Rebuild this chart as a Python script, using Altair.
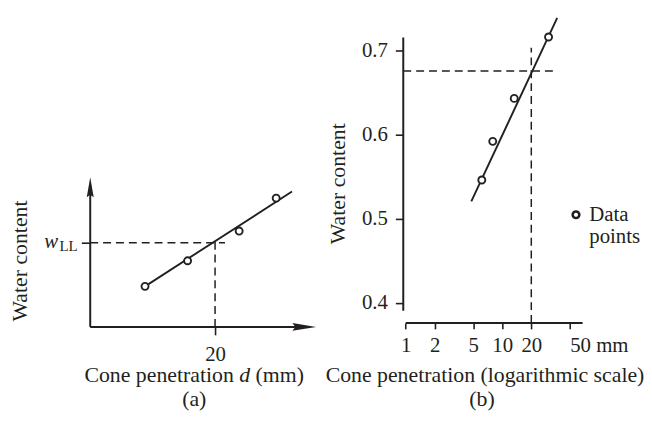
import altair as alt
import pandas as pd

FONT = "Liberation Serif"
INK = "#231f20"

# ---------------- panel (a): schematic, linear scale ----------------
a_point_d = [8.78, 15.6, 23.86, 29.79]
a_point_w = [0.273, 0.445, 0.645, 0.867]
a_fit_d = [8.78, 32.33]
a_fit_w = [0.273, 0.911]
a_tick_d = [20]
a_w_ll = 0.567
a_x_domain = [0, 33.33]
a_y_domain = [0, 2.087]
a_x_arrow = 34.29
a_y_arrow = 0.94
a_hdash_end = 21.6
a_vdash_top = 0.6
a_title_at = [24.75, -0.37]

# ---------------- panel (b): logarithmic scale ----------------
b_point_d = [6.14, 7.97, 13.31, 30.2]
b_point_w = [0.546, 0.592, 0.643, 0.716]
b_fit_d = [4.78, 37.1]
b_fit_w = [0.5205, 0.7388]
b_tick_d = [1, 2, 5, 10, 20, 50]
b_tick_w = [0.4, 0.5, 0.6, 0.7]
b_d_ll = 20
b_w_ll = 0.6756
b_x_domain = [0.9427, 68.0]
b_y_domain = [0.3761, 0.74]
b_yaxis_span = [0.3906, 0.7153]
b_xaxis_span = [1, 68.0]
b_hdash_end = 35.1
b_vdash_top = 0.7032
b_legend_at = [58.1, 0.5047]

DASH = [8, 5]

# ================= panel (a) =================
sx_a = alt.Scale(domain=a_x_domain, nice=False, zero=False)
sy_a = alt.Scale(domain=a_y_domain, nice=False, zero=False)
axis_ax = alt.Axis(values=a_tick_d, title=None, domain=False, grid=False,
                   tickSize=8, tickWidth=1.6, tickColor=INK, labelPadding=9,
                   labelFlush=False, labelOverlap=False, format="d")
axis_ay = alt.Axis(values=[a_w_ll], labels=False, title="Water content",
                   titleY=246, titlePadding=50, domain=False, grid=False,
                   tickSize=9, tickWidth=1.6, tickColor=INK)


def XA(f="x"):
    return alt.X(f"{f}:Q", scale=sx_a, axis=axis_ax)


def YA(f="y"):
    return alt.Y(f"{f}:Q", scale=sy_a, axis=axis_ay)


a_vaxis = alt.Chart(pd.DataFrame({"x": [0], "y": [0], "y2": [a_y_arrow]})).mark_rule(
    color=INK, strokeWidth=2).encode(x=XA(), y=YA(), y2="y2:Q")
a_haxis = alt.Chart(pd.DataFrame({"x": [0], "x2": [a_x_arrow], "y": [0]})).mark_rule(
    color=INK, strokeWidth=2).encode(x=XA(), x2="x2:Q", y=YA())
a_arrow_up = alt.Chart(pd.DataFrame({"x": [0], "y": [a_y_arrow]})).mark_point(
    shape="M0,-1L0.35,1L0,0.75L-0.35,1Z", filled=True, size=400, color=INK, opacity=1
).encode(x=XA(), y=YA())
a_arrow_right = alt.Chart(pd.DataFrame({"x": [a_x_arrow], "y": [0]})).mark_point(
    shape="M1,0L-1,-0.33L-0.75,0L-1,0.33Z", filled=True, size=576, color=INK, opacity=1
).encode(x=XA(), y=YA())
a_hdash = alt.Chart(pd.DataFrame({"x": [0], "x2": [a_hdash_end], "y": [a_w_ll]})).mark_rule(
    color=INK, strokeWidth=1.5, strokeDash=DASH).encode(x=XA(), x2="x2:Q", y=YA())
a_vdash = alt.Chart(pd.DataFrame({"x": a_tick_d, "y": [0], "y2": [a_vdash_top]})).mark_rule(
    color=INK, strokeWidth=1.5, strokeDash=DASH).encode(x=XA(), y=YA(), y2="y2:Q")
a_fit = alt.Chart(pd.DataFrame({"x": a_fit_d, "y": a_fit_w})).mark_line(
    color=INK, strokeWidth=1.9).encode(x=XA(), y=YA())
a_pts = alt.Chart(pd.DataFrame({"x": a_point_d, "y": a_point_w})).mark_point(
    shape="circle", size=50, filled=True, fill="white", stroke=INK, strokeWidth=1.9, opacity=1
).encode(x=XA(), y=YA())

lab_df = pd.DataFrame({"x": [0], "y": [a_w_ll]})
a_w = alt.Chart(lab_df).mark_text(
    text="w", font=FONT, fontStyle="italic", fontSize=21, color=INK,
    align="center", baseline="alphabetic", dx=-39.3, dy=5).encode(x=XA(), y=YA())
a_ll = alt.Chart(lab_df).mark_text(
    text="LL", font=FONT, fontSize=15, color=INK,
    align="left", baseline="alphabetic", dx=-31, dy=8.5).encode(x=XA(), y=YA())

tdf = pd.DataFrame({"x": [a_title_at[0]], "y": [a_title_at[1]]})
a_t1 = alt.Chart(tdf).mark_text(
    text="Cone penetration", font=FONT, fontSize=22, color=INK,
    align="right", baseline="alphabetic", dx=-11).encode(x=XA(), y=YA())
a_t2 = alt.Chart(tdf).mark_text(
    text="d", font=FONT, fontStyle="italic", fontSize=22, color=INK,
    align="center", baseline="alphabetic").encode(x=XA(), y=YA())
a_t3 = alt.Chart(tdf).mark_text(
    text="(mm)", font=FONT, fontSize=22, color=INK,
    align="left", baseline="alphabetic", dx=11).encode(x=XA(), y=YA())

panel_a = alt.layer(
    a_vaxis, a_haxis, a_arrow_up, a_arrow_right, a_hdash, a_vdash,
    a_fit, a_pts, a_w, a_ll, a_t1, a_t2, a_t3
).properties(
    width=210, height=313,
    title=alt.TitleParams("(a)", orient="bottom", offset=3, fontSize=22, font=FONT,
                          fontWeight="normal", color=INK, frame="group", anchor="middle"),
)

# ================= panel (b) =================
sx_b = alt.Scale(type="log", domain=b_x_domain, nice=False)
sy_b = alt.Scale(domain=b_y_domain, nice=False, zero=False)
axis_bx = alt.Axis(
    values=b_tick_d,
    labelExpr="datum.value === 50 ? '50 mm' : format(datum.value, 'd')",
    labelAlign={"condition": {"test": "datum.value === 50", "value": "left"}, "value": "center"},
    title="Cone penetration (logarithmic scale)", titleX=82, titlePadding=9,
    domain=False, grid=False, tickSize=6, tickWidth=1.6, tickColor=INK,
    labelPadding=6, labelFlush=False, labelOverlap=False)
axis_by = alt.Axis(values=b_tick_w, format=".1f", title="Water content",
                   titleY=168, titlePadding=12, domain=False, grid=False,
                   tickSize=8, tickWidth=1.6, tickColor=INK, labelPadding=8)


def XB(f="x"):
    return alt.X(f"{f}:Q", scale=sx_b, axis=axis_bx)


def YB(f="y"):
    return alt.Y(f"{f}:Q", scale=sy_b, axis=axis_by)


b_vaxis = alt.Chart(pd.DataFrame({"x": [b_x_domain[0]], "y": [b_yaxis_span[0]],
                                  "y2": [b_yaxis_span[1]]})).mark_rule(
    color=INK, strokeWidth=2).encode(x=XB(), y=YB(), y2="y2:Q")
b_haxis = alt.Chart(pd.DataFrame({"x": [b_xaxis_span[0]], "x2": [b_xaxis_span[1]],
                                  "y": [b_y_domain[0]]})).mark_rule(
    color=INK, strokeWidth=2).encode(x=XB(), x2="x2:Q", y=YB())
b_hdash = alt.Chart(pd.DataFrame({"x": [b_x_domain[0]], "x2": [b_hdash_end],
                                  "y": [b_w_ll]})).mark_rule(
    color=INK, strokeWidth=1.5, strokeDash=DASH).encode(x=XB(), x2="x2:Q", y=YB())
b_vdash = alt.Chart(pd.DataFrame({"x": [b_d_ll], "y": [b_y_domain[0]],
                                  "y2": [b_vdash_top]})).mark_rule(
    color=INK, strokeWidth=1.5, strokeDash=DASH).encode(x=XB(), y=YB(), y2="y2:Q")
b_fit = alt.Chart(pd.DataFrame({"x": b_fit_d, "y": b_fit_w})).mark_line(
    color=INK, strokeWidth=1.9).encode(x=XB(), y=YB())
b_pts = alt.Chart(pd.DataFrame({"x": b_point_d, "y": b_point_w})).mark_point(
    shape="circle", size=50, filled=True, fill="white", stroke=INK, strokeWidth=1.9, opacity=1
).encode(x=XB(), y=YB())

leg_df = pd.DataFrame({"x": [b_legend_at[0]], "y": [b_legend_at[1]]})
b_leg_sym = alt.Chart(leg_df).mark_point(
    shape="circle", size=45, filled=True, fill="white", stroke=INK, strokeWidth=2.6, opacity=1
).encode(x=XB(), y=YB())
b_leg_txt = alt.Chart(leg_df).mark_text(
    text=["Data", "points"], lineHeight=22, font=FONT, fontSize=21, color=INK,
    align="left", baseline="alphabetic", dx=13.4, dy=6.3).encode(x=XB(), y=YB())

panel_b = alt.layer(
    b_vaxis, b_haxis, b_hdash, b_vdash, b_fit, b_pts, b_leg_sym, b_leg_txt
).properties(
    width=181, height=309,
    title=alt.TitleParams("(b)", orient="bottom", offset=4, dx=-11, fontSize=22, font=FONT,
                          fontWeight="normal", color=INK, frame="group", anchor="middle"),
)

chart = alt.hconcat(panel_a, panel_b, spacing=8).properties(
    padding={"left": 0, "top": 4, "right": 0, "bottom": 0},
    background="white",
).configure_view(stroke=None).configure_axis(
    labelFont=FONT, titleFont=FONT, labelFontSize=21, titleFontSize=22,
    labelColor=INK, titleColor=INK, titleFontWeight="normal",
)

chart.save("out.html", embed_options={"renderer": "svg", "actions": False})
